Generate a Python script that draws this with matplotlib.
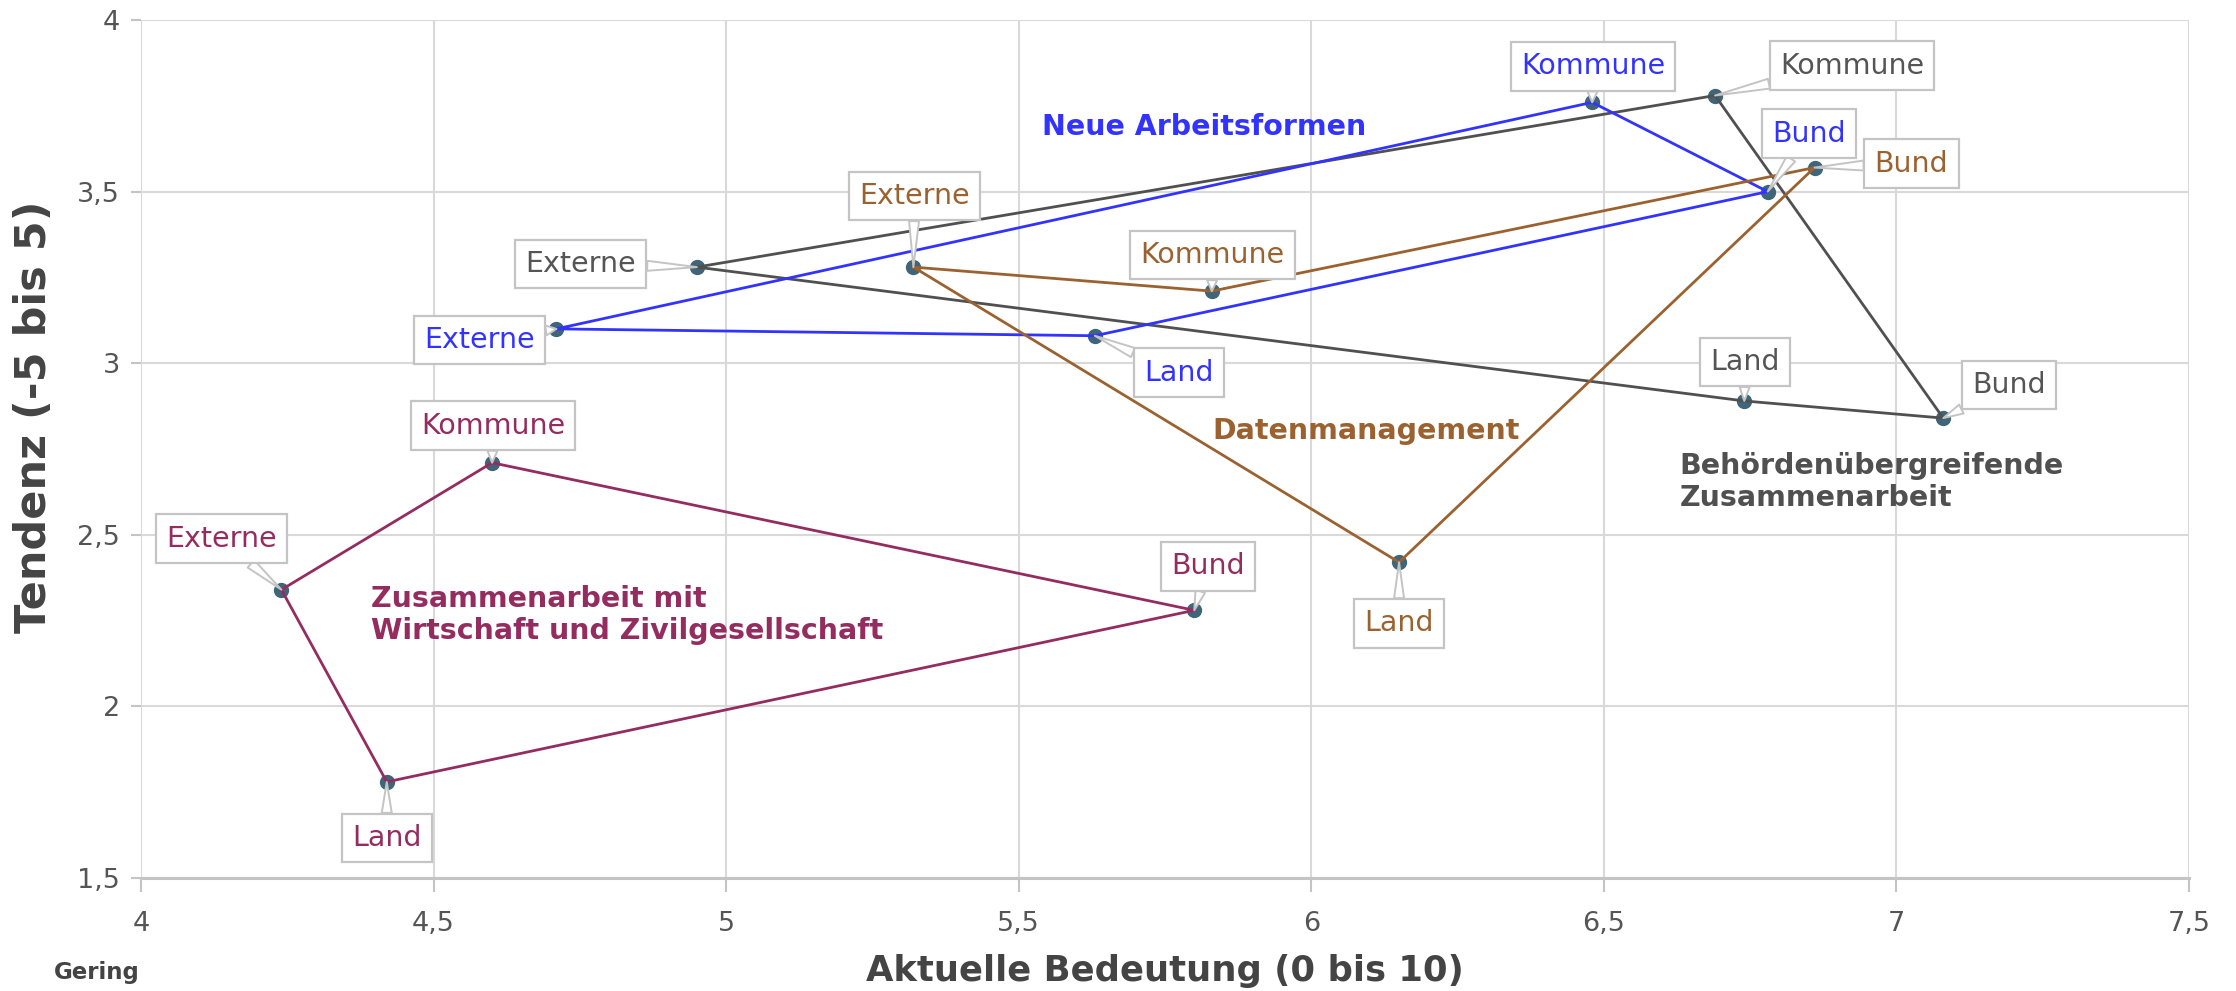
import matplotlib
matplotlib.use("Agg")
import matplotlib.pyplot as plt

# ---------------- data ----------------
categories = ["Externe", "Kommune", "Bund", "Land"]

series_names = [
    "Behördenübergreifende\nZusammenarbeit",
    "Neue Arbeitsformen",
    "Datenmanagement",
    "Zusammenarbeit mit\nWirtschaft und Zivilgesellschaft",
]

behoerden_x = [4.95, 6.69, 7.08, 6.74]
behoerden_y = [3.28, 3.78, 2.84, 2.89]

arbeitsformen_x = [4.71, 6.48, 6.78, 5.63]
arbeitsformen_y = [3.10, 3.76, 3.50, 3.08]

daten_x = [5.32, 5.83, 6.86, 6.15]
daten_y = [3.28, 3.21, 3.57, 2.42]

wirtschaft_x = [4.24, 4.60, 5.80, 4.42]
wirtschaft_y = [2.34, 2.71, 2.28, 1.78]

x_ticks = [4, 4.5, 5, 5.5, 6, 6.5, 7, 7.5]
x_ticklabels = ["4", "4,5", "5", "5,5", "6", "6,5", "7", "7,5"]
y_ticks = [1.5, 2, 2.5, 3, 3.5, 4]
y_ticklabels = ["1,5", "2", "2,5", "3", "3,5", "4"]

# ---------------- style ----------------
colors = ["#505050", "#3333ff", "#9b6230", "#952c60"]
label_colors = ["#555555", "#3333ff", "#9b6230", "#952c60"]
marker_color = "#3f6579"

# label offsets (pixels) per series and category
label_offsets = [
    [(-116, 3), (137, 30), (66, 33), (1, 39)],
    [(-77, -11), (1, 36), (41, 58), (84, -37)],
    [(1, 71), (1, 36), (97, 4), (0, -61)],
    [(-60, 51), (1, 37), (14, 44), (0, -56)],
]
# series title anchor (data coords: left / baseline of last line)
title_pos = [(6.629, 2.584), (5.540, 3.665), (5.831, 2.779), (4.393, 2.196)]

W, H, DPI = 2236, 991, 100
fig = plt.figure(figsize=(W / DPI, H / DPI), dpi=DPI)
ax = fig.add_axes([141 / W, 1 - 878 / H, (2189 - 141) / W, (878 - 20) / H])

fam = dict(family="DejaVu Sans")

ax.set_xlim(4, 7.5)
ax.set_ylim(1.5, 4)
ax.set_xticks(x_ticks)
ax.set_xticklabels(x_ticklabels, fontsize=19.5, color="#555555", **fam)
ax.set_yticks(y_ticks)
ax.set_yticklabels(y_ticklabels, fontsize=19.5, color="#555555", **fam)
ax.grid(True, color="#d9d9d9", linewidth=1.5, zorder=0)
ax.set_axisbelow(True)
for s in ["top", "right", "left"]:
    ax.spines[s].set_visible(False)
ax.spines["bottom"].set_color("#c4c4c4")
ax.spines["bottom"].set_linewidth(2.2)
ax.tick_params(axis="x", length=10, width=1.5, color="#c4c4c4", pad=14)
ax.tick_params(axis="y", length=7, width=1.5, color="#c4c4c4", pad=8)

all_x = [behoerden_x, arbeitsformen_x, daten_x, wirtschaft_x]
all_y = [behoerden_y, arbeitsformen_y, daten_y, wirtschaft_y]

for i, (xs, ys) in enumerate(zip(all_x, all_y)):
    col = colors[i]
    ax.plot(xs, ys, "o", color=marker_color, markersize=10, zorder=3)
    ax.plot(xs + [xs[0]], ys + [ys[0]], color=col, linewidth=2.0, zorder=4)
    for j, cat in enumerate(categories):
        dx, dy = label_offsets[i][j]
        ax.annotate(
            cat, (xs[j], ys[j]), xytext=(dx, dy), textcoords="offset pixels",
            ha="center", va="center", fontsize=20.5, color=label_colors[i], zorder=6,
            bbox=dict(boxstyle="square,pad=0.36", fc="white", ec="#c4c4c4", lw=1.6),
            arrowprops=dict(arrowstyle="wedge,tail_width=0.35", fc="white",
                            ec="#c4c4c4", lw=1.4, shrinkA=0, shrinkB=0),
            **fam,
        )
    tx, ty = title_pos[i]
    ax.text(tx, ty, series_names[i], ha="left", va="baseline", fontsize=20.5,
            fontweight="bold", color=col, linespacing=1.2, zorder=5, **fam)

fig.text(1165 / W, 1 - 971 / H, "Aktuelle Bedeutung (0 bis 10)", ha="center",
         va="center", fontsize=25.5, fontweight="bold", color="#444444", **fam)
fig.text(34 / W, 1 - 417 / H, "Tendenz (-5 bis 5)", ha="center", va="center",
         rotation=90, fontsize=31, fontweight="bold", color="#444444", **fam)
fig.text(97 / W, 1 - 973 / H, "Gering", ha="center", va="center",
         fontsize=16.5, fontweight="bold", color="#444444", **fam)

fig.savefig("out.png", dpi=DPI)
